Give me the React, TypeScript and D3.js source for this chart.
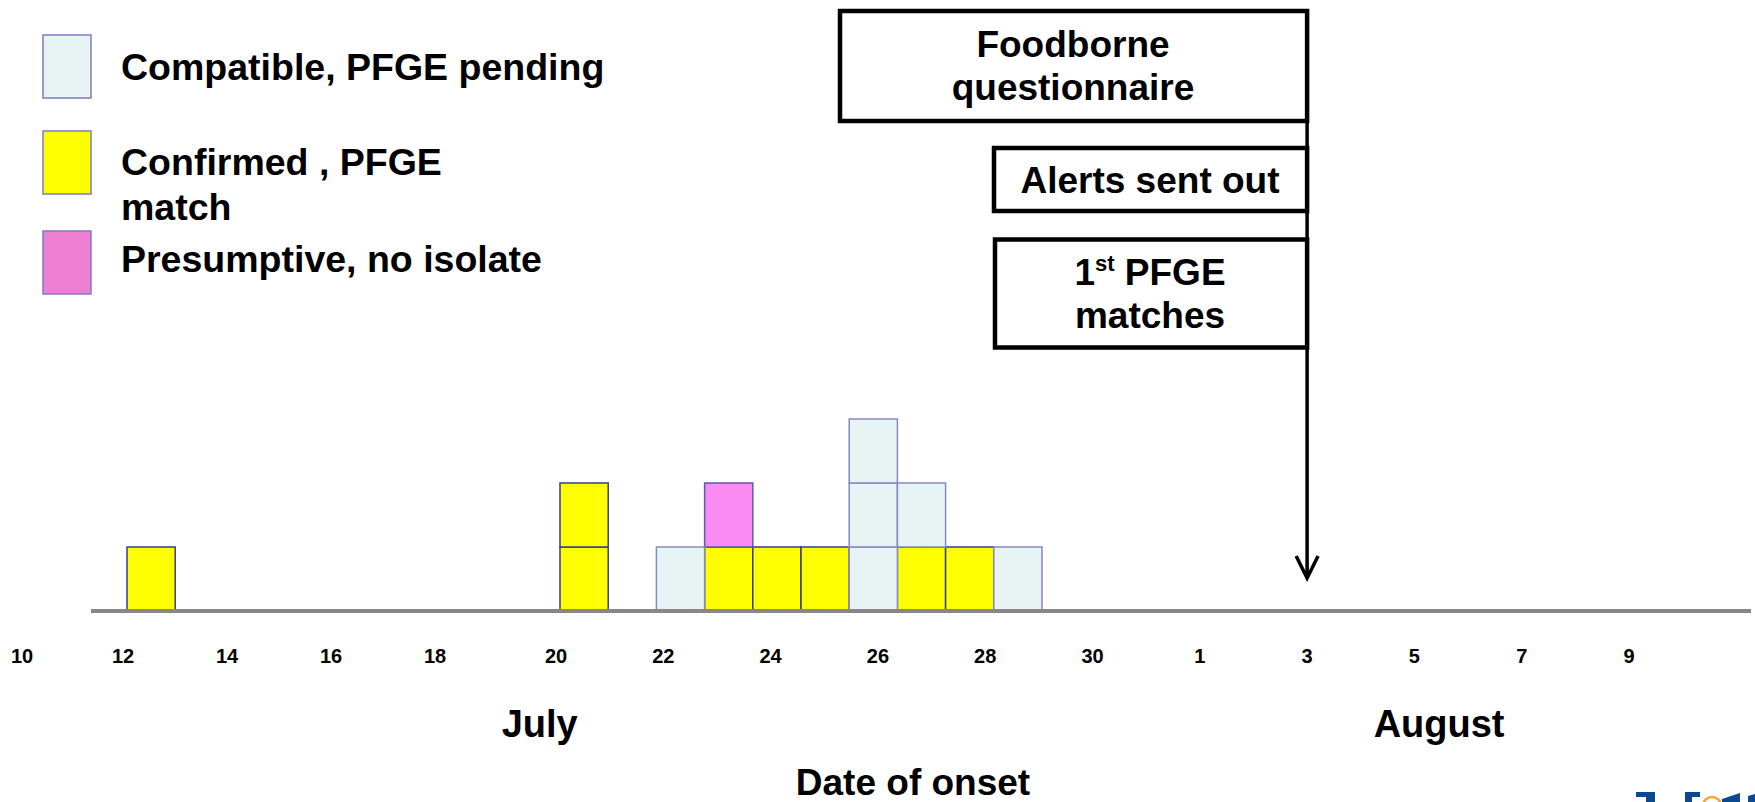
import React from "react";
import * as d3 from "d3";

// ---- data ----
const days = [12, 20, 22, 23, 24, 25, 26, 27, 28, 29];
const confirmed = [1, 2, 0, 1, 1, 1, 0, 1, 1, 0];
const presumptive = [0, 0, 0, 1, 0, 0, 0, 0, 0, 0];
const compatible = [0, 0, 1, 0, 0, 0, 3, 1, 0, 1];

const seriesKeys = ["confirmed", "presumptive", "compatible"];
const legendKeys = ["compatible", "confirmed", "presumptive"];
const legendLabels = [["Compatible, PFGE pending"], ["Confirmed , PFGE", "match"], ["Presumptive, no isolate"]];

const tickDays = [10, 12, 14, 16, 18, 20, 22, 24, 26, 28, 30, 32, 34, 36, 38, 40];
const tickLabels = ["10", "12", "14", "16", "18", "20", "22", "24", "26", "28", "30", "1", "3", "5", "7", "9"];
const monthLabels = ["July", "August"];
const monthDays = [19.73, 36.46];
const axisTitle = "Date of onset";
const arrowDay = 34;

// ---- styles ----
const FONT = "'Liberation Sans', Arial, Helvetica, sans-serif";
const fills: Record<string, string> = { confirmed: "#FFFF00", presumptive: "#F98BF2", compatible: "#E8F4F4" };
const legendFills: Record<string, string> = { confirmed: "#FFFF00", presumptive: "#EE80D4", compatible: "#E8F4F4" };
const strokes: Record<string, string> = { confirmed: "#3A3A9A", presumptive: "#5A5AAA", compatible: "#8888C6" };

export default function App() {
  const W = 1755, H = 802;
  const table = days.map((d, i) => ({ day: d, confirmed: confirmed[i], presumptive: presumptive[i], compatible: compatible[i] }));
  const stacked = d3.stack<any>().keys(seriesKeys)(table);

  const xBar = d3.scaleLinear().domain([12, 20, 30]).range([127, 560, 1042]);
  const bw = xBar(23) - xBar(22);
  const xTick = d3.scaleLinear().domain([10, 12, 18, 20, 40]).range([22, 123, 435, 556, 1629]);
  const y = d3.scaleLinear().domain([0, 1]).range([611, 547]);
  const unit = y(0) - y(1);

  const cells: { key: string; day: number; level: number }[] = [];
  stacked.forEach((s) => {
    s.forEach((seg, i) => {
      for (let l = seg[0]; l < seg[1]; l++) cells.push({ key: s.key as string, day: table[i].day, level: l });
    });
  });

  const ax = xTick(arrowDay);

  return (
    <svg width={W} height={H} style={{ position: "absolute", left: 0, top: 0, background: "#ffffff" }} fontFamily={FONT} fontWeight="bold">
      <rect x={0} y={0} width={W} height={H} fill="#ffffff" />
      {/* legend */}
      {legendKeys.map((k, i) => {
        const top = [35, 131, 231][i];
        return (
          <g key={k}>
            <rect x={43} y={top} width={48} height={63} fill={legendFills[k]} stroke="#7C7CC4" strokeWidth={1.5} />
            {legendLabels[i].map((t, j) => (
              <text key={j} x={121} y={[80, 175, 272][i] + j * 45} fontSize={37.5} fill="#000">{t}</text>
            ))}
          </g>
        );
      })}

      {/* annotation boxes */}
      <rect x={840} y={11} width={ax - 840} height={110} fill="#fff" stroke="#000" strokeWidth={4.5} />
      <text x={1073} y={57} fontSize={37} textAnchor="middle">Foodborne</text>
      <text x={1073} y={100} fontSize={37} textAnchor="middle">questionnaire</text>
      <rect x={994} y={148} width={ax - 994} height={63} fill="#fff" stroke="#000" strokeWidth={4.5} />
      <text x={1150} y={193} fontSize={37} textAnchor="middle">Alerts sent out</text>
      <rect x={995} y={239.5} width={ax - 995} height={108} fill="#fff" stroke="#000" strokeWidth={4.5} />
      <text x={1150} y={285} fontSize={37} textAnchor="middle">1<tspan fontSize={22} dy={-14}>st</tspan><tspan dy={14}> PFGE</tspan></text>
      <text x={1150} y={328} fontSize={37} textAnchor="middle">matches</text>

      {/* arrow */}
      <line x1={ax} x2={ax} y1={9} y2={577} stroke="#000" strokeWidth={3.5} />
      <polyline points={`${ax - 11},556 ${ax},578 ${ax + 11},556`} fill="none" stroke="#000" strokeWidth={3.5} />

      {/* bars */}
      {cells.map((c, i) => (
        <rect key={i} x={xBar(c.day)} y={y(c.level + 1)} width={bw} height={unit} fill={fills[c.key]} stroke={strokes[c.key]} strokeWidth={1.5} />
      ))}

      {/* baseline */}
      <line x1={91} x2={1751} y1={611} y2={611} stroke="#878787" strokeWidth={4} />

      {/* tick labels */}
      {tickDays.map((d, i) => (
        <text key={d} x={xTick(d)} y={663} fontSize={20} textAnchor="middle">{tickLabels[i]}</text>
      ))}
      {monthLabels.map((m, i) => (
        <text key={m} x={xTick(monthDays[i])} y={737} fontSize={38} textAnchor="middle">{m}</text>
      ))}
      <text x={913} y={795} fontSize={37} textAnchor="middle">{axisTitle}</text>

      {/* partial logo at bottom right */}
      <g fill="#0B4A8E">
        <polygon points="1636,792 1655,792 1655,802 1646,802 1646,797 1636,797" />
        <polygon points="1685,792 1700,792 1700,797 1692,797 1692,802 1685,802" />
        <polygon points="1722,799 1740,793 1740,802 1722,802" />
        <polygon points="1748,796 1755,794 1755,802 1748,802" />
      </g>
      <circle cx={1712} cy={806} r={9} fill="none" stroke="#F2A531" strokeWidth={2.5} />
    </svg>
  );
}
